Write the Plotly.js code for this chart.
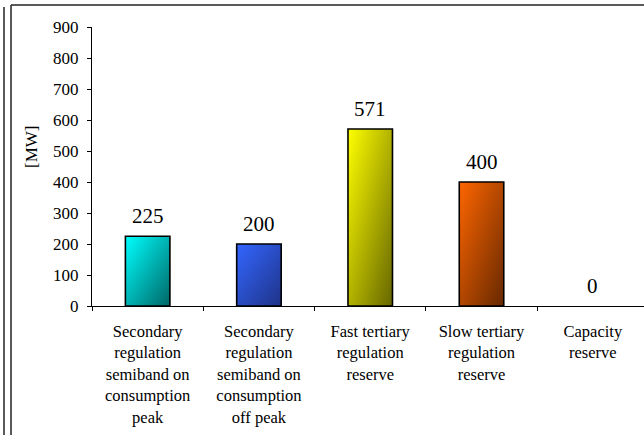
<!DOCTYPE html>
<html>
<head>
<meta charset="utf-8">
<script src="https://cdn.plot.ly/plotly-3.0.1.min.js"></script>
<style>
html,body{margin:0;padding:0;background:#fff;}
#chart{width:644px;height:435px;}
</style>
</head>
<body>
<div id="chart"></div>
<script>
// ---- data ----
var categories = [
  "Secondary<br>regulation<br>semiband on<br>consumption<br>peak",
  "Secondary<br>regulation<br>semiband on<br>consumption<br>off peak",
  "Fast tertiary<br>regulation<br>reserve",
  "Slow tertiary<br>regulation<br>reserve",
  "Capacity<br>reserve"
];
var values = [225, 200, 571, 400, 0];
var valueLabels = ["225", "200", "571", "400", "0"];
var yTickVals = [0, 100, 200, 300, 400, 500, 600, 700, 800, 900];
var yTitle = "[MW]";

// ---- styles ----
var lightColors = ["#00FFFF", "#3366FF", "#FFFF00", "#FF6600"];
var darkColors  = ["#006666", "#1F3388", "#666600", "#662800"];
var midColors   = ["#00B3B3", "#2A4DC4", "#B3B300", "#B34700", "#FFFFFF"];
var FONT = "Liberation Serif";

var xIdx = categories.map(function(_, i){ return i; });

var trace = {
  type: "bar",
  x: xIdx,
  y: values,
  marker: {
    color: midColors,
    line: {color: "#000000", width: values.map(function(v){ return v === 0 ? 0 : 1.6; })}
  },
  hoverinfo: "none"
};

// pixel helpers for frame shapes (paper coords)
var L = 92, R = 0, T = 27, B = 129, W = 644, H = 435;
var pw = W - L - R, ph = H - T - B;
function px(p){ return (p - L) / pw; }
function py(q){ return (H - B - q) / ph; }

var annotations = values.map(function(v, i){
  return {
    x: i, y: v, xref: "x", yref: "y",
    text: valueLabels[i], showarrow: false,
    yanchor: "middle", yshift: 20,
    font: {family: FONT, size: 21, color: "#000"}
  };
});
annotations.push({
  xref: "paper", yref: "paper", x: px(31), y: py(147),
  text: yTitle, showarrow: false, textangle: -90,
  xanchor: "center", yanchor: "middle",
  font: {family: FONT, size: 17, color: "#000"}
});

var lineStyle = {color: "#222222", width: 1.5};
var shapes = [
  {type: "line", xref: "paper", yref: "paper", x0: px(4), x1: px(4), y0: py(7), y1: py(440), line: lineStyle},
  {type: "line", xref: "paper", yref: "paper", x0: px(11), x1: px(11), y0: py(5), y1: py(440), line: lineStyle},
  {type: "line", xref: "paper", yref: "paper", x0: px(11), x1: px(650), y0: py(5), y1: py(5), line: lineStyle}
];

var layout = {
  width: W, height: H,
  margin: {l: L, r: R, t: T, b: B, pad: 0},
  paper_bgcolor: "#ffffff",
  plot_bgcolor: "#ffffff",
  showlegend: false,
  bargap: 0.6,
  font: {family: FONT, size: 17, color: "#000"},
  xaxis: {
    range: [-0.5, 4.46],
    tickmode: "array",
    tickvals: xIdx,
    ticktext: categories,
    ticks: "outside", ticklen: 10, tickcolor: "rgba(0,0,0,0)",
    showgrid: false,
    zeroline: false,
    showline: true, linecolor: "#000", linewidth: 1,
    tickfont: {family: FONT, size: 16.5, color: "#000"},
    fixedrange: true
  },
  xaxis2: {
    overlaying: "x",
    range: [0, 4.96],
    tickmode: "array",
    tickvals: [0, 1, 2, 3, 4],
    showticklabels: false,
    ticks: "outside", ticklen: 4, tickcolor: "#000", tickwidth: 1,
    showgrid: false, zeroline: false, showline: false
  },
  yaxis: {
    range: [0, 900],
    tickmode: "array",
    tickvals: yTickVals,
    ticks: "outside", ticklen: 4, tickcolor: "#000", tickwidth: 1,
    ticklabelstandoff: 5,
    showgrid: false,
    zeroline: false,
    showline: true, linecolor: "#000", linewidth: 1,
    tickfont: {family: FONT, size: 17, color: "#000"},
    fixedrange: true
  },
  annotations: annotations,
  shapes: shapes
};

var dummy = {type: "scatter", x: [0], y: [0], xaxis: "x2", mode: "none", hoverinfo: "none", showlegend: false};

Plotly.newPlot("chart", [trace, dummy], layout, {staticPlot: true, displayModeBar: false}).then(function(gd){
  var svg = gd.querySelector("svg.main-svg");
  var ns = "http://www.w3.org/2000/svg";
  var defs = svg.querySelector("defs");
  if (!defs) { defs = document.createElementNS(ns, "defs"); svg.insertBefore(defs, svg.firstChild); }
  lightColors.forEach(function(c, i){
    var g = document.createElementNS(ns, "linearGradient");
    g.setAttribute("id", "barGrad" + i);
    g.setAttribute("x1", "0"); g.setAttribute("y1", "0");
    g.setAttribute("x2", "1"); g.setAttribute("y2", "1");
    var s1 = document.createElementNS(ns, "stop");
    s1.setAttribute("offset", "0"); s1.setAttribute("stop-color", c);
    var s2 = document.createElementNS(ns, "stop");
    s2.setAttribute("offset", "1"); s2.setAttribute("stop-color", darkColors[i]);
    g.appendChild(s1); g.appendChild(s2);
    defs.appendChild(g);
  });
  var paths = gd.querySelectorAll("g.trace.bars g.point path");
  paths.forEach(function(p, i){
    if (i < lightColors.length) { p.style.fill = "url(#barGrad" + i + ")"; }
  });
});
</script>
</body>
</html>
